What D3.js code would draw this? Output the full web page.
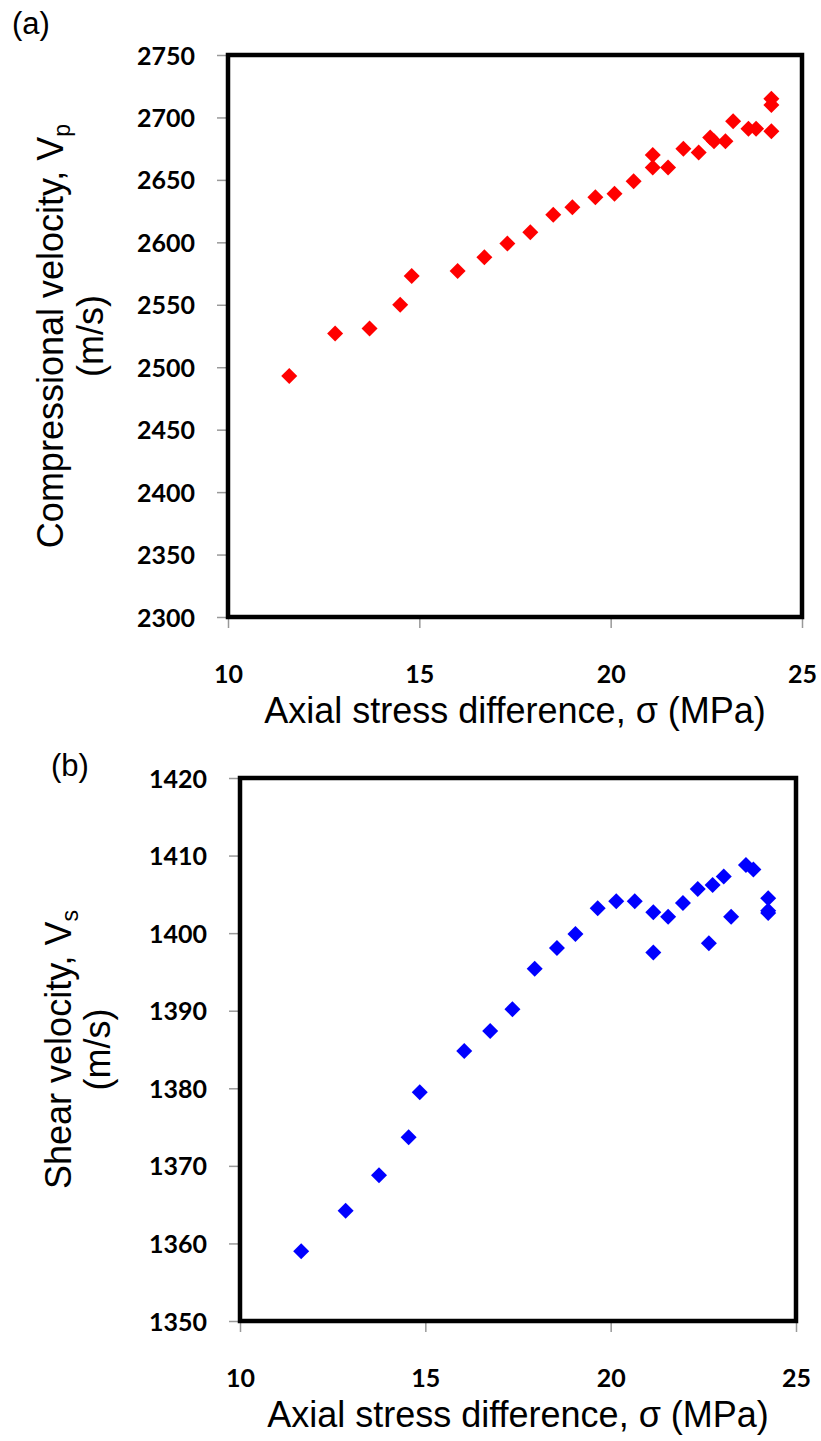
<!DOCTYPE html>
<html>
<head>
<meta charset="utf-8">
<script src="https://cdn.jsdelivr.net/npm/d3@7"></script>
<style>
  html, body { margin: 0; padding: 0; background: #fff; }
  svg { display: block; }
  .tick-label { font-family: Lato, "Open Sans", sans-serif; font-weight: 700; font-size: 25px; fill: #000; }
  .axis-title { font-family: "Liberation Sans", Arial, sans-serif; font-size: 36px; fill: #000; }
  .panel-tag { font-family: "Liberation Sans", Arial, sans-serif; font-size: 31px; fill: #000; }
</style>
</head>
<body>
<svg id="chart" width="821" height="1441"></svg>
<script>
// Axial stress difference (MPa) and the velocities measured at each step
const stressP = [11.6, 12.8, 13.7, 14.5, 14.8, 16.0, 16.7, 17.3, 17.9, 18.5, 19.0, 19.6, 20.1, 20.6,
                 21.1, 21.1, 21.5, 21.9, 22.3, 22.6, 22.7, 23.0, 23.2, 23.6, 23.8, 24.2, 24.2, 24.2];
const vp = [2493, 2527, 2531, 2550, 2573, 2577, 2588, 2599, 2608, 2622, 2628, 2636, 2639, 2649,
            2670, 2660, 2660, 2675, 2672, 2684, 2681, 2681, 2697, 2691, 2691, 2689, 2715, 2710];

const stressS = [11.65, 12.85, 13.75, 14.55, 14.85, 16.05, 16.75, 17.35, 17.95, 18.55, 19.05, 19.65, 20.15, 20.65,
                 21.15, 21.15, 21.55, 21.95, 22.35, 22.65, 22.75, 23.05, 23.25, 23.65, 23.85, 24.25, 24.25, 24.25];
const vs = [1359.0, 1364.2, 1368.8, 1373.7, 1379.5, 1384.8, 1387.4, 1390.2, 1395.4, 1398.1, 1399.9, 1403.2, 1404.1, 1404.1,
            1402.7, 1397.5, 1402.1, 1403.9, 1405.7, 1398.7, 1406.2, 1407.3, 1402.1, 1408.8, 1408.2, 1404.5, 1402.9, 1402.6];

// Axis ranges and tick values
const xDomain = [10, 25];
const xTicks = [10, 15, 20, 25];
const vpDomain = [2300, 2750];
const vpTicks = [2300, 2350, 2400, 2450, 2500, 2550, 2600, 2650, 2700, 2750];
const vsDomain = [1350, 1420];
const vsTicks = [1350, 1360, 1370, 1380, 1390, 1400, 1410, 1420];

const svg = d3.select("#chart");

function drawPanel(opt) {
  const { box, xs, ys, yDomain, yTicks, color, tag, tagPos, yTitle, ySub } = opt;
  const x = d3.scaleLinear().domain(xDomain).range([box.left, box.right]);
  const y = d3.scaleLinear().domain(yDomain).range([box.bottom, box.top]);
  const g = svg.append("g");

  // y axis: gray tick marks outside the frame, bold labels
  const yAxis = d3.axisLeft(y).tickValues(yTicks).tickSize(11).tickPadding(22).tickFormat(d3.format("d"));
  const ya = g.append("g").attr("transform", `translate(${box.left},0)`).call(yAxis);
  ya.selectAll(".tick line").attr("stroke", "#999").attr("stroke-width", 1.5);
  ya.selectAll(".tick text").attr("class", "tick-label").attr("font-size", null).attr("font-family", null)
    .attr("dy", "0.36em");

  // x axis
  const xAxis = d3.axisBottom(x).tickValues(xTicks).tickSize(11).tickPadding(0).tickFormat(d3.format("d"));
  const xa = g.append("g").attr("transform", `translate(0,${box.bottom})`).call(xAxis);
  xa.selectAll(".tick line").attr("stroke", "#999").attr("stroke-width", 1.5);
  xa.selectAll(".tick text").attr("class", "tick-label").attr("font-size", null).attr("font-family", null)
    .attr("y", 66).attr("dy", null);
  g.selectAll(".domain").remove();

  // heavy frame around the plot area
  g.append("rect")
    .attr("x", box.left).attr("y", box.top)
    .attr("width", box.right - box.left).attr("height", box.bottom - box.top)
    .attr("fill", "none").attr("stroke", "#000").attr("stroke-width", 4.5);

  // diamond markers
  const diamond = d3.symbol().type(d3.symbolSquare).size(128);
  g.append("g").selectAll("path")
    .data(xs.map((v, i) => [v, ys[i]]))
    .join("path")
    .attr("d", diamond)
    .attr("transform", d => `translate(${x(d[0])},${y(d[1])}) rotate(45)`)
    .attr("fill", color);

  // x axis title
  g.append("text").attr("class", "axis-title")
    .attr("x", (box.left + box.right) / 2).attr("y", box.bottom + 106)
    .attr("text-anchor", "middle")
    .text("Axial stress difference, σ (MPa)");

  // y axis title on two lines, with subscript
  const cy = (box.top + box.bottom) / 2;
  const t1 = g.append("text").attr("class", "axis-title")
    .attr("text-anchor", "middle")
    .attr("transform", `translate(${yTitle.x1},${cy}) rotate(-90)`);
  t1.append("tspan").text(yTitle.text + "V");
  t1.append("tspan").attr("font-size", "23px").attr("dy", "7").text(ySub);
  g.append("text").attr("class", "axis-title")
    .attr("text-anchor", "middle")
    .attr("transform", `translate(${yTitle.x2},${cy}) rotate(-90)`)
    .text("(m/s)");

  // panel tag
  g.append("text").attr("class", "panel-tag")
    .attr("x", tagPos[0]).attr("y", tagPos[1]).text(tag);
}

drawPanel({
  box: { left: 228, right: 802, top: 55, bottom: 617 },
  xs: stressP, ys: vp, yDomain: vpDomain, yTicks: vpTicks,
  color: "#ff0000", tag: "(a)", tagPos: [12, 34],
  yTitle: { text: "Compressional velocity, ", x1: 63, x2: 103 }, ySub: "p"
});

drawPanel({
  box: { left: 240, right: 796, top: 778, bottom: 1321 },
  xs: stressS, ys: vs, yDomain: vsDomain, yTicks: vsTicks,
  color: "#0000ff", tag: "(b)", tagPos: [51, 776],
  yTitle: { text: "Shear velocity, ", x1: 71, x2: 110 }, ySub: "s"
});
</script>
</body>
</html>
